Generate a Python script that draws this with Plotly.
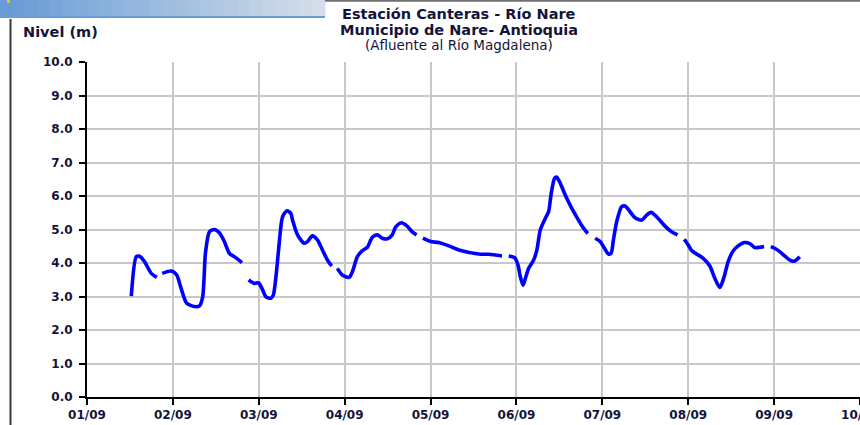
import plotly.graph_objects as go

# ---------------- data (x = month position: 0 -> 01/09, 1 -> 02/09, ...) ----------------
month_labels = ["01/09", "02/09", "03/09", "04/09", "05/09",
                "06/09", "07/09", "08/09", "09/09", "10/09"]

seg1_x = [0.516, 0.574, 0.612, 0.670, 0.748, 0.813]
seg1_y = [3.01, 4.19, 4.20, 4.04, 3.69, 3.57]

seg2_x = [0.876, 0.980, 1.045, 1.096, 1.161, 1.251, 1.309, 1.347, 1.379, 1.425,
          1.483, 1.541, 1.599, 1.657, 1.715, 1.805]
seg2_y = [3.69, 3.76, 3.64, 3.24, 2.80, 2.70, 2.72, 2.99, 4.29, 4.93,
          5.00, 4.90, 4.64, 4.29, 4.19, 4.01]

seg3_x = [1.882, 1.948, 1.998, 2.037, 2.084, 2.142, 2.169, 2.200, 2.238, 2.277,
          2.328, 2.374, 2.393, 2.451, 2.529, 2.567, 2.625, 2.683, 2.741, 2.799, 2.850]
seg3_y = [3.49, 3.39, 3.41, 3.24, 2.99, 2.95, 3.04, 3.59, 4.59, 5.38,
          5.56, 5.48, 5.28, 4.84, 4.59, 4.64, 4.81, 4.69, 4.39, 4.09, 3.91]

seg4_x = [2.915, 2.973, 3.051, 3.090, 3.148, 3.206, 3.264, 3.322, 3.380, 3.438,
          3.496, 3.554, 3.594, 3.659, 3.728, 3.786, 3.837]
seg4_y = [3.84, 3.64, 3.57, 3.74, 4.19, 4.37, 4.47, 4.77, 4.84, 4.74,
          4.72, 4.84, 5.08, 5.20, 5.10, 4.93, 4.84]

seg5_x = [3.911, 4.000, 4.096, 4.213, 4.329, 4.561, 4.677, 4.832]
seg5_y = [4.74, 4.64, 4.61, 4.51, 4.39, 4.27, 4.26, 4.21]

seg6_x = [4.910, 4.979, 5.018, 5.045, 5.076, 5.104, 5.142, 5.200, 5.238, 5.278,
          5.336, 5.374, 5.405, 5.444, 5.470, 5.510, 5.568, 5.645, 5.722, 5.781, 5.831]
seg6_y = [4.21, 4.16, 3.94, 3.59, 3.34, 3.54, 3.84, 4.09, 4.39, 4.99,
          5.33, 5.53, 6.08, 6.53, 6.56, 6.38, 6.03, 5.63, 5.28, 5.04, 4.88]

seg7_x = [5.916, 5.975, 6.025, 6.071, 6.102, 6.129, 6.167, 6.225, 6.265, 6.323,
          6.381, 6.458, 6.516, 6.567, 6.632, 6.730, 6.806, 6.876]
seg7_y = [4.74, 4.64, 4.44, 4.27, 4.29, 4.69, 5.23, 5.68, 5.70, 5.53,
          5.35, 5.28, 5.43, 5.51, 5.38, 5.10, 4.93, 4.84]

seg8_x = [6.954, 7.000, 7.039, 7.097, 7.175, 7.252, 7.302, 7.368, 7.418, 7.465,
          7.523, 7.581, 7.651, 7.717, 7.775, 7.833, 7.883]
seg8_y = [4.71, 4.54, 4.37, 4.27, 4.14, 3.91, 3.59, 3.27, 3.59, 4.04,
          4.36, 4.51, 4.61, 4.58, 4.46, 4.47, 4.49]

seg9_x = [7.961, 8.007, 8.065, 8.123, 8.193, 8.240, 8.298]
seg9_y = [4.49, 4.44, 4.34, 4.21, 4.07, 4.06, 4.19]

segments_x = [seg1_x, seg2_x, seg3_x, seg4_x, seg5_x, seg6_x, seg7_x, seg8_x, seg9_x]
segments_y = [seg1_y, seg2_y, seg3_y, seg4_y, seg5_y, seg6_y, seg7_y, seg8_y, seg9_y]

title_lines = ["Estación Canteras - Río Nare",
               "Municipio de Nare- Antioquia",
               "(Afluente al Río Magdalena)"]
y_title = "Nivel (m)"

# ---------------- figure ----------------
W, H = 860, 425
ML, MR, MT, MB = 87, 0, 62, 28
PW, PH = W - ML - MR, H - MT - MB


def px(x):
    return (x - ML) / PW


def py(y):
    return (H - MB - y) / PH


all_x, all_y = [], []
for sx, sy in zip(segments_x, segments_y):
    all_x += sx + [None]
    all_y += sy + [None]

fig = go.Figure()
fig.add_trace(go.Scatter(
    x=all_x, y=all_y, mode="lines", connectgaps=False,
    line=dict(color="#0000ff", width=3.6, shape="spline", smoothing=0.7),
    hoverinfo="skip", showlegend=False))

txt = "#14143a"
tick_font = dict(family="DejaVu Sans", size=12, color=txt, weight="bold")

fig.update_xaxes(
    range=[0, 9], tickmode="array", tickvals=list(range(len(month_labels))),
    ticktext=month_labels, tickfont=tick_font, ticklabeloverflow="allow",
    automargin=False,
    showgrid=True, gridcolor="#c8c8c8", gridwidth=1.5,
    showline=True, linecolor="#000000", linewidth=2,
    ticks="outside", ticklen=6, tickwidth=1.5, tickcolor="#000000",
    zeroline=False, fixedrange=True)
fig.update_yaxes(
    range=[0, 10], dtick=1, tickformat=".1f", tickfont=tick_font,
    automargin=False,
    showgrid=True, gridcolor="#c8c8c8", gridwidth=1.5,
    showline=True, linecolor="#000000", linewidth=2, mirror=True,
    ticks="outside", ticklen=6, tickwidth=1.5, tickcolor="#000000",
    ticklabelstandoff=4, zeroline=False, fixedrange=True)

# titles
title_y = [14.5, 29.5, 45.0]
title_size = [14.5, 14.5, 13.5]
title_weight = ["bold", "bold", "normal"]
for t, yy, sz, wt in zip(title_lines, title_y, title_size, title_weight):
    fig.add_annotation(
        text=t, xref="paper", yref="paper", x=px(459), y=py(yy),
        xanchor="center", yanchor="middle", showarrow=False,
        font=dict(family="DejaVu Sans", size=sz, color=txt, weight=wt))
fig.add_annotation(
    text=y_title, xref="paper", yref="paper", x=px(21), y=py(32),
    xanchor="left", yanchor="middle", showarrow=False,
    font=dict(family="DejaVu Sans", size=14.5, color=txt, weight="bold"))

# screenshot frame decorations
shapes = []
n = 26
c0, c1 = (104, 155, 214), (212, 222, 234)
for k in range(n):
    f = k / (n - 1)
    col = "rgb({},{},{})".format(*[int(a + (b - a) * f) for a, b in zip(c0, c1)])
    x0 = 325 * k / n
    x1 = 325 * (k + 1) / n + 0.5
    shapes.append(dict(type="rect", xref="paper", yref="paper",
                       x0=px(x0), x1=px(x1), y0=py(16), y1=py(-1),
                       line=dict(width=0), fillcolor=col, layer="above"))
shapes.append(dict(type="rect", xref="paper", yref="paper",
                   x0=px(0), x1=px(325), y0=py(18), y1=py(16),
                   line=dict(width=0), fillcolor="#6b9bd8", layer="above"))
shapes.append(dict(type="rect", xref="paper", yref="paper",
                   x0=px(7), x1=px(10), y0=py(3), y1=py(-1),
                   line=dict(width=0), fillcolor="#f0c020", layer="above"))
shapes.append(dict(type="line", xref="paper", yref="paper",
                   x0=px(10.5), x1=px(10.5), y0=py(19), y1=py(430),
                   line=dict(width=2, color="#3a3a3a"), layer="above"))
shapes.append(dict(type="line", xref="paper", yref="paper",
                   x0=px(325), x1=px(862), y0=py(0.7), y1=py(0.7),
                   line=dict(width=2, color="#707070"), layer="above"))

fig.update_layout(
    width=W, height=H, autosize=False,
    margin=dict(l=ML, r=MR, t=MT, b=MB, pad=0, autoexpand=False),
    paper_bgcolor="#ffffff", plot_bgcolor="#ffffff",
    shapes=shapes, showlegend=False)

fig.write_html(
    "out.html", config={"displayModeBar": False},
    post_script="document.body.style.margin='0';document.body.style.overflow='hidden';")
